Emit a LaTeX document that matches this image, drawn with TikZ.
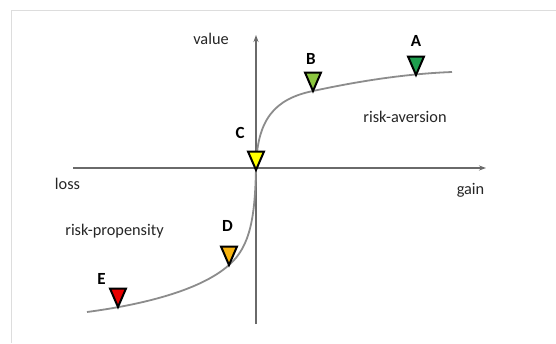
\documentclass[tikz,border=0pt]{standalone}
\usepackage{fontspec}
\setmainfont{Carlito}
\usetikzlibrary{arrows.meta}
\definecolor{axisgray}{HTML}{6A6A6A}
\definecolor{curvegray}{HTML}{8C8C8C}
\definecolor{framegray}{HTML}{DDDDDD}
\definecolor{cA}{HTML}{1E9E4E}
\definecolor{cB}{HTML}{8CC640}
\definecolor{cC}{HTML}{FFFF00}
\definecolor{cD}{HTML}{F8B410}
\definecolor{cE}{HTML}{E80000}
\tikzset{
  axisline/.style={draw=axisgray, line width=1.4pt, -{Stealth[length=7pt,width=5pt]}},
  curveline/.style={draw=curvegray, line width=1.8pt},
  txt/.style={inner sep=0pt, font=\fontsize{16.3}{19}\selectfont, text=black!85},
  lbl/.style={inner sep=0pt, font=\fontsize{17}{20}\selectfont\bfseries, text=black},
  marker/.style={draw=black, line width=2pt, line join=miter},
}
\begin{document}
\begin{tikzpicture}[x=1pt,y=-1pt]
\useasboundingbox (0,0) rectangle (556,343);
\fill[white] (0,0) rectangle (556,343);
\draw[framegray, line width=1pt] (11,343) -- (11,10) -- (556,10);

% axes
\coordinate (xl) at (73,168);
\coordinate (xr) at (486,168);
\coordinate (yb) at (256,324);
\coordinate (yt) at (256,35);
\draw[axisline] (xl) -- (xr);
\draw[axisline] (yb) -- (yt);

% curve
\coordinate (O) at (256,168);
\coordinate (tA) at (416,75);
\coordinate (tB) at (313,91);
\coordinate (tC) at (256,170);
\coordinate (tD) at (229,265);
\coordinate (tE) at (118,307);
\coordinate (cs) at (87,312);
\coordinate (ce) at (452,72);
\draw[curveline] (cs) .. controls (140,305) and (200,291) .. (tD)
  .. controls (251,246) and (255,215) .. (O)
  .. controls (257,120) and (274,99) .. (tB)
  .. controls (350,83) and (400,74) .. (ce);

% markers
\foreach \t/\c in {tA/cA,tB/cB,tC/cC,tD/cD,tE/cE}{
  \draw[marker, fill=\c] (\t) -- ++(-8,-18.5) -- ++(16,0) -- cycle;
}

% texts
\node[txt] (value) at (211,38.5) {value};
\node[txt] (loss) at (67.5,184) {loss};
\node[txt] (gain) at (470.5,190) {gain};
\node[txt] (aversion) at (405,117) {risk-aversion};
\node[txt] (propensity) at (114.5,231) {risk-propensity};

% labels
\node[lbl] (lA) at (416,41) {A};
\node[lbl] (lB) at (311,59) {B};
\node[lbl] (lC) at (240,133) {C};
\node[lbl] (lD) at (227.5,226) {D};
\node[lbl] (lE) at (101.5,279) {E};
\end{tikzpicture}
\end{document}
